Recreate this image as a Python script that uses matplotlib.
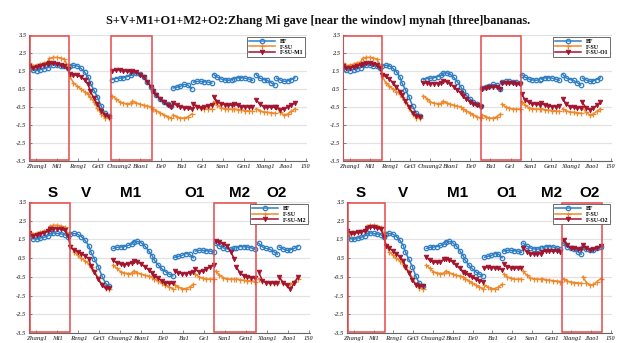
import matplotlib.pyplot as plt
from matplotlib.patches import Rectangle
import numpy as np

title = "S+V+M1+O1+M2+O2:Zhang Mi gave [near the window] mynah [three]bananas."

syllables = ['Zhang1', 'Mi1', 'Reng1', 'Gei3', 'Chuang2', 'Bian1', 'De0',
             'Ba1', 'Ge1', 'San1', 'Gen1', 'Xiang1', 'Jiao1']
starts = [0, 11, 22, 33, 45, 56, 67, 78, 89, 100, 111, 123, 134]
offsets = [0, 2, 4, 6, 8, 10]
# syllables drawn as one connected line
runs = [[0, 1, 2, 3], [4, 5, 6], [7], [8], [9], [10], [11], [12]]

tick_pos = [3.8, 15.0, 26.3, 37.5, 48.8, 60.0, 71.3, 82.5, 93.8, 105.0,
            116.3, 127.5, 138.8, 150]
tick_labels = syllables + ['150']
y_ticks = [-3.5, -2.5, -1.5, -0.5, 0.5, 1.5, 2.5, 3.5]

bf = [
    [1.78, 1.55, 1.52, 1.58, 1.62, 1.68],
    [1.82, 1.85, 1.82, 1.80, 1.76, 1.65],
    [1.80, 1.82, 1.78, 1.65, 1.45, 1.15],
    [0.85, 0.45, 0.05, -0.45, -0.85, -1.00],
    [1.02, 1.08, 1.10, 1.12, 1.18, 1.25],
    [1.38, 1.40, 1.32, 1.15, 0.90, 0.62],
    [0.40, 0.15, -0.05, -0.22, -0.35, -0.45],
    [0.55, 0.60, 0.65, 0.75, 0.72, 0.52],
    [0.88, 0.92, 0.92, 0.90, 0.88, 0.82],
    [1.30, 1.15, 1.05, 1.00, 0.98, 1.02],
    [1.05, 1.12, 1.12, 1.10, 1.05, 0.98],
    [1.30, 1.10, 1.02, 0.98, 0.85, 0.72],
    [1.10, 1.00, 0.92, 0.95, 1.02, 1.12],
]

fsu = [
    [1.92, 1.80, 1.82, 1.88, 1.95, 2.00],
    [2.20, 2.25, 2.25, 2.22, 2.15, 1.80],
    [1.20, 0.85, 0.65, 0.50, 0.35, 0.20],
    [0.05, -0.20, -0.55, -0.90, -1.10, -1.12],
    [0.12, -0.05, -0.22, -0.30, -0.32, -0.30],
    [-0.18, -0.28, -0.35, -0.42, -0.46, -0.50],
    [-0.60, -0.72, -0.84, -0.95, -1.05, -1.12],
    [-0.95, -1.05, -1.12, -1.12, -1.05, -0.90],
    [-0.35, -0.50, -0.58, -0.62, -0.62, -0.62],
    [-0.20, -0.40, -0.55, -0.60, -0.62, -0.62],
    [-0.60, -0.65, -0.68, -0.70, -0.72, -0.75],
    [-0.60, -0.72, -0.78, -0.80, -0.82, -0.85],
    [-0.50, -0.80, -0.95, -0.90, -0.75, -0.60],
]

fsu_m1 = [
    [1.80, 1.68, 1.70, 1.75, 1.82, 1.88],
    [1.92, 1.92, 1.90, 1.85, 1.80, 1.60],
    [1.35, 1.30, 1.25, 1.18, 1.00, 0.75],
    [0.40, 0.00, -0.35, -0.70, -0.95, -1.05],
    [1.50, 1.55, 1.55, 1.52, 1.48, 1.45],
    [1.48, 1.42, 1.30, 1.15, 0.90, 0.62],
    [0.40, 0.15, -0.05, -0.25, -0.40, -0.50],
    [-0.30, -0.42, -0.50, -0.55, -0.58, -0.62],
    [-0.35, -0.48, -0.55, -0.52, -0.45, -0.40],
    [0.05, -0.20, -0.32, -0.38, -0.40, -0.40],
    [-0.35, -0.42, -0.48, -0.50, -0.50, -0.48],
    [-0.10, -0.35, -0.48, -0.50, -0.52, -0.52],
    [-0.50, -0.65, -0.62, -0.50, -0.38, -0.30],
]

fsu_o1 = [
    [1.80, 1.65, 1.68, 1.72, 1.78, 1.85],
    [1.90, 1.92, 1.92, 1.90, 1.85, 1.65],
    [1.30, 1.20, 1.05, 0.85, 0.60, 0.35],
    [0.15, -0.15, -0.50, -0.85, -1.00, -1.05],
    [0.85, 0.82, 0.80, 0.80, 0.80, 0.85],
    [0.92, 0.90, 0.80, 0.62, 0.45, 0.25],
    [0.10, -0.05, -0.20, -0.32, -0.42, -0.50],
    [0.52, 0.55, 0.58, 0.62, 0.60, 0.48],
    [0.82, 0.85, 0.85, 0.82, 0.80, 0.75],
    [0.20, -0.10, -0.25, -0.32, -0.35, -0.38],
    [-0.30, -0.40, -0.45, -0.48, -0.48, -0.45],
    [-0.05, -0.35, -0.48, -0.52, -0.55, -0.55],
    [-0.25, -0.55, -0.65, -0.58, -0.42, -0.25],
]

fsu_m2 = [
    [1.82, 1.68, 1.72, 1.78, 1.85, 1.95],
    [2.05, 2.08, 2.08, 2.05, 1.98, 1.70],
    [1.10, 0.95, 0.85, 0.75, 0.62, 0.45],
    [0.10, -0.25, -0.62, -0.95, -1.10, -1.10],
    [0.38, 0.25, 0.18, 0.15, 0.18, 0.25],
    [0.35, 0.30, 0.20, 0.05, -0.12, -0.30],
    [-0.45, -0.58, -0.70, -0.80, -0.85, -0.85],
    [-0.20, -0.28, -0.32, -0.32, -0.28, -0.22],
    [-0.10, -0.22, -0.18, -0.08, 0.05, 0.15],
    [1.40, 1.35, 1.28, 1.15, 0.85, 0.45],
    [0.05, -0.30, -0.45, -0.52, -0.55, -0.55],
    [-0.25, -0.70, -0.80, -0.82, -0.82, -0.80],
    [-0.50, -0.80, -0.95, -1.15, -0.85, -0.50],
]

fsu_o2 = [
    [1.95, 1.85, 1.85, 1.88, 1.90, 1.95],
    [2.12, 2.15, 2.15, 2.12, 2.05, 1.65],
    [1.15, 1.02, 0.90, 0.75, 0.55, 0.35],
    [0.05, -0.30, -0.65, -0.92, -1.00, -1.00],
    [0.55, 0.38, 0.30, 0.28, 0.30, 0.45],
    [0.48, 0.40, 0.30, 0.12, -0.05, -0.22],
    [-0.30, -0.42, -0.52, -0.62, -0.70, -0.75],
    [-0.02, 0.02, 0.00, -0.02, -0.05, -0.12],
    [0.18, 0.05, 0.00, -0.02, -0.02, 0.00],
    [1.05, 0.85, 0.75, 0.72, 0.72, 0.75],
    [0.85, 0.88, 0.88, 0.88, 0.88, 0.85],
    [1.45, 1.20, 1.05, 1.02, 1.00, 0.98],
    [1.18, 1.05, 0.95, 0.98, 1.05, 1.15],
]

panels = [
    ('F-SU-M1', fsu_m1, [(0, 1), (4, 5)]),
    ('F-SU-O1', fsu_o1, [(0, 1), (7, 8)]),
    ('F-SU-M2', fsu_m2, [(0, 1), (9, 10)]),
    ('F-SU-O2', fsu_o2, [(0, 1), (11, 12)]),
]

# constituent labels above the bottom panels (pixel x, one list per panel)
part_labels = ['S', 'V', 'M1', 'O1', 'M2', 'O2']
part_x_left = [53, 86, 131, 195, 240, 277]
part_x_right = [361, 403, 458, 507, 552, 590]

c_bf = '#2f7fc4'
c_fsu = '#ee8a2c'
c_red = '#a2142f'
c_box = '#e8484a'

serif = 'Liberation Serif'

fig = plt.figure(figsize=(6.2, 3.43), dpi=100)
rects = [
    [0.047, 0.531, 0.448, 0.367],
    [0.553, 0.531, 0.434, 0.367],
    [0.047, 0.029, 0.453, 0.382],
    [0.560, 0.029, 0.427, 0.382],
]


def draw_series(ax, values, color, marker, label, **kw):
    first = True
    for run in runs:
        xs, ys = [], []
        for i in run:
            xs += [starts[i] + o for o in offsets]
            ys += values[i]
        ax.plot(xs, ys, color=color, marker=marker, lw=1.1,
                label=label if first else None, **kw)
        first = False


for rect, (name, third, boxes) in zip(rects, panels):
    ax = fig.add_axes(rect)
    ax.set_xlim(0, 150.5)
    ax.set_ylim(-3.5, 3.5)
    ax.set_yticks(y_ticks)
    ax.set_yticklabels([f'{v:.1f}' for v in y_ticks])
    ax.set_xticks(tick_pos)
    ax.set_xticklabels(tick_labels)
    for lab in ax.get_xticklabels() + ax.get_yticklabels():
        lab.set_fontfamily(serif)
        lab.set_fontstyle('italic')
        lab.set_fontweight('bold')
        lab.set_fontsize(4.7)
        lab.set_color('#333333')
    ax.tick_params(direction='in', length=2, width=0.5, pad=2, colors='#555555')
    ax.yaxis.grid(True, color='#e2e2e2', lw=0.9)
    ax.set_axisbelow(True)
    for s in ['top', 'right']:
        ax.spines[s].set_visible(False)
    for s in ['left', 'bottom']:
        ax.spines[s].set_color('#666666')
        ax.spines[s].set_linewidth(0.8)

    draw_series(ax, bf, c_bf, 'o', 'BF', ms=3.2, mfc='none', mew=0.9)
    draw_series(ax, fsu, c_fsu, '+', 'F-SU', ms=3.6, mew=0.9)
    draw_series(ax, third, c_red, 'v', name, ms=3.3, mew=0.6)

    for a, b in boxes:
        x0 = max(starts[a] - 0.7, 0.2)
        x1 = starts[b] + offsets[-1] + 0.7
        ax.add_patch(Rectangle((x0, -3.45), x1 - x0, 6.9, fill=False,
                               edgecolor=c_box, lw=1.1, zorder=5))

    leg = ax.legend(loc='upper right', prop={'family': serif, 'weight': 'bold', 'size': 4.2},
                    handlelength=4.5, borderaxespad=0.3, borderpad=0.3,
                    labelspacing=0.15, fancybox=False, edgecolor='#555555',
                    framealpha=1)
    leg.get_frame().set_linewidth(0.6)

fig.text(318 / 620, 1 - 21 / 343, title, ha='center', va='center', family=serif,
         fontweight='bold', fontsize=8.8, color='#111111')

for xs in (part_x_left, part_x_right):
    for lab, px in zip(part_labels, xs):
        fig.text(px / 620, 1 - 193 / 343, lab, ha='center', va='center',
                 family='Liberation Sans', fontweight='bold', fontsize=11)

fig.savefig('out.png', dpi=100)
